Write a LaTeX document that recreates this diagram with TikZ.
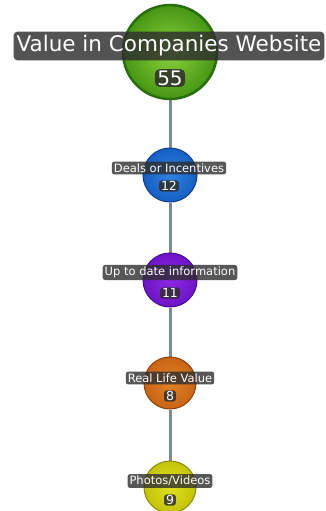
\documentclass[tikz,border=0pt]{standalone}
\usepackage{fontspec}
\setmainfont{DejaVu Sans}
\usetikzlibrary{backgrounds}
\definecolor{linkc}{HTML}{7D889A}
\definecolor{lblc}{HTML}{2E2E2E}
\tikzset{
  ball/.style={circle, line width=1pt, inner sep=0pt},
  biglabel/.style={fill=lblc, fill opacity=0.82, text opacity=1, text=white, rounded corners=4pt, inner xsep=3pt, inner ysep=4pt, font=\fontsize{21.5}{23}\selectfont},
  bignum/.style={fill=lblc, fill opacity=0.85, text opacity=1, text=white, rounded corners=5pt, inner xsep=2.5pt, inner ysep=1.5pt, font=\fontsize{20}{22}\selectfont},
  smalllabel/.style={fill=lblc, fill opacity=0.8, text opacity=1, text=white, rounded corners=2.5pt, inner xsep=2pt, inner ysep=2pt, font=\fontsize{11.5}{13}\selectfont},
  smallnum/.style={fill=lblc, fill opacity=0.85, text opacity=1, text=white, rounded corners=3pt, inner xsep=2pt, inner ysep=1pt, font=\fontsize{12.5}{14}\selectfont},
  link/.style={draw=linkc, line width=3pt}
}
\begin{document}
\begin{tikzpicture}[x=1pt,y=-1pt]
\useasboundingbox (0,0) rectangle (326,511);
% balls
\node[ball, minimum size=94pt, inner color={rgb,255:red,140;green,210;blue,60}, outer color={rgb,255:red,70;green,150;blue,20}, draw={rgb,255:red,40;green,110;blue,10}, line width=2.5pt] (root) at (170,52) {};
\node[ball, minimum size=54pt, inner color={rgb,255:red,50;green,130;blue,225}, outer color={rgb,255:red,20;green,95;blue,195}, draw={rgb,255:red,15;green,60;blue,140}] (deals) at (170,175) {};
\node[ball, minimum size=54pt, inner color={rgb,255:red,140;green,40;blue,225}, outer color={rgb,255:red,110;green,20;blue,200}, draw={rgb,255:red,70;green,10;blue,140}] (uptodate) at (170,280) {};
\node[ball, minimum size=52pt, inner color={rgb,255:red,225;green,130;blue,40}, outer color={rgb,255:red,200;green,100;blue,20}, draw={rgb,255:red,140;green,65;blue,10}] (real) at (170,383) {};
\node[ball, minimum size=52pt, inner color={rgb,255:red,225;green,225;blue,30}, outer color={rgb,255:red,195;green,195;blue,10}, draw={rgb,255:red,140;green,140;blue,0}] (photos) at (170,487) {};
% links
\begin{scope}[on background layer]
\fill[white] (0,0) rectangle (326,511);
\draw[link] (root) -- (deals);
\draw[link] (deals) -- (uptodate);
\draw[link] (uptodate) -- (real);
\draw[link] (real) -- (photos);
\end{scope}
% labels
\node[biglabel] (rootlbl) at (169,46) {Value in Companies Website};
\node[bignum] (rootnum) at (170,78) {55};
\node[smalllabel] (dealslbl) at (169,168) {Deals or Incentives};
\node[smallnum] (dealsnum) at (169,186) {12};
\node[smalllabel] (uptodatelbl) at (170,272.5) {Up to date information};
\node[smallnum] (uptodatenum) at (170,293) {11};
\node[smalllabel] (reallbl) at (170,378) {Real Life Value};
\node[smallnum] (realnum) at (170,396) {8};
\node[smalllabel] (photoslbl) at (170,481) {Photos/Videos};
\node[smallnum] (photosnum) at (170,500) {9};
\end{tikzpicture}
\end{document}
